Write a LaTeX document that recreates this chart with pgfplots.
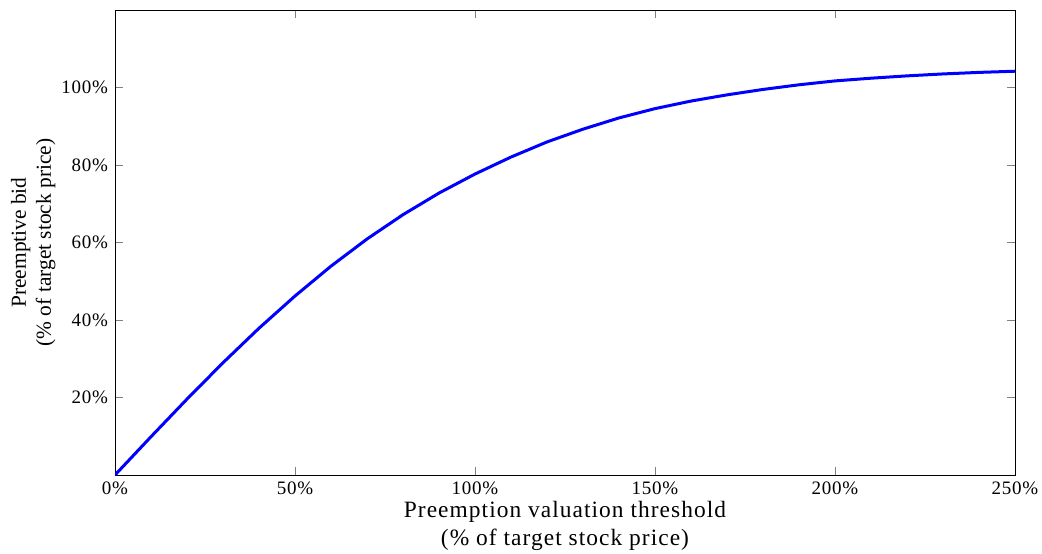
\documentclass[border=0pt]{standalone}
\usepackage{fontspec}
\setmainfont{Liberation Serif}
\usepackage{pgfplots}
\pgfplotsset{compat=1.18}
\begin{document}
\begin{tikzpicture}
\begin{axis}[
  width=450pt, height=232.5pt, scale only axis,
  xmin=0, xmax=250, ymin=0, ymax=120,
  xtick={0,50,...,250}, ytick={20,40,...,100},
  xticklabel={\pgfmathprintnumber{\tick}\%},
  yticklabel={\pgfmathprintnumber{\tick}\%},
  /pgf/number format/assume math mode=true,
  tick label style={font=\fontsize{9.5}{10}\selectfont\addfontfeature{LetterSpace=4}},
  tick align=inside, tick pos=both,
  major tick length=4pt,
  axis line style={line width=0.5pt},
  xlabel={Preemption valuation threshold\\(\% of target stock price)},
  ylabel={Preemptive bid\\(\% of target stock price)},
  xlabel style={font=\fontsize{11.7}{14}\selectfont\addfontfeature{LetterSpace=4.5}, align=center, yshift=3.5pt},
  ylabel style={font=\fontsize{10.7}{12.5}\selectfont, align=center, yshift=-4pt},
]
\addplot[blue, line width=1.5pt] coordinates {
(0,0) (10,9.88) (20,19.59) (30,28.97) (40,37.88) (50,46.19) (60,53.90) (70,60.90)
(80,67.18) (90,72.76) (100,77.67) (110,82.05) (120,85.95) (130,89.25) (140,92.15)
(150,94.55) (160,96.50) (170,98.10) (180,99.50) (190,100.70) (200,101.70)
(210,102.40) (220,103.00) (230,103.50) (240,103.90) (250,104.20)
};
\end{axis}
\pgfresetboundingbox
\path[use as bounding box] ([xshift=-57.5pt,yshift=-39pt]current axis.south west) rectangle ([xshift=13.5pt,yshift=5pt]current axis.north east);
\end{tikzpicture}
\end{document}
